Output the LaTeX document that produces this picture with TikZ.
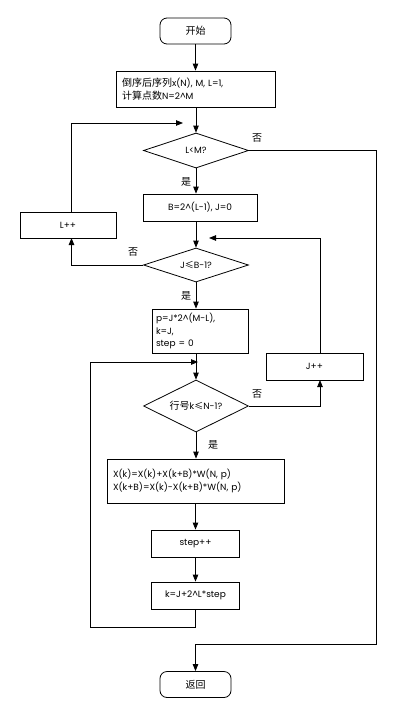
\documentclass[tikz,border=0pt]{standalone}
\usepackage{fontspec}
\setmainfont{Poppins}
\newfontfamily\cjk{Noto Sans CJK SC}
\usetikzlibrary{arrows.meta,shapes.geometric}
\tikzset{
    >={Triangle[length=7pt,width=5.5pt]},
    boks/.style={
           rectangle,
           draw=black, line width=0.8pt,
           inner sep=0pt,
           text centered},
    venstre/.style={
           boks,
           align=left},
    ende/.style={
           boks,
           rounded corners=7pt,
           minimum width=71pt,
           minimum height=26pt},
    rombe/.style={
           diamond,
           draw=black, line width=0.8pt,
           aspect=3,
           inner sep=0pt,
           minimum width=105pt},
    svar/.style={
           inner sep=0pt,
           font=\fontsize{10}{12}\cjk},
    pil/.style={
           ->,
           line width=0.8pt}
}

\begin{document}
\begin{tikzpicture}[x=1pt, y=-1pt, font=\fontsize{9}{12.5}\selectfont]
        \useasboundingbox (0,0) rectangle (401,707);
        \node[ende] (start) at (195.5,31) {{\cjk\fontsize{10}{12}\selectfont 开始}};
        \node[venstre, minimum width=159pt, minimum height=36pt, text width=147pt] (init) at (195.5,89)
            {{\cjk\fontsize{10}{12}\selectfont 倒序后序列}x(N), M, L=1,\\{\cjk\fontsize{10}{12}\selectfont 计算点数}N=2\^{}M};
        \node[rombe, minimum height=35pt] (d1) at (196,150.5) {L<M?};
        \node[boks, minimum width=114pt, minimum height=27pt] (bset) at (200,207.5) {B=2\^{}(L-1), J=0};
        \node[boks, minimum width=96pt, minimum height=26pt] (lpp) at (68,225) {L++};
        \node[rombe, minimum height=34pt] (d2) at (196,265) {J{\cjk ≤}B-1?};
        \node[venstre, minimum width=96pt, minimum height=44pt, text width=88pt] (pset) at (200,331)
            {p=J*2\^{}(M-L),\\k=J,\\step = 0};
        \node[rombe, minimum height=52pt] (d3) at (196,406) {{\cjk\fontsize{10}{12}\selectfont 行号}k{\cjk ≤}N-1?};
        \node[boks, minimum width=97pt, minimum height=27pt] (jpp) at (314.5,366.5) {J++};
        \node[venstre, minimum width=177pt, minimum height=44pt, text width=165pt] (xup) at (195.5,481)
            {X(k)=X(k)+X(k+B)*W(N, p)\\X(k+B)=X(k)-X(k+B)*W(N, p)};
        \node[boks, minimum width=88pt, minimum height=27pt] (stp) at (195.5,543.5) {step++};
        \node[boks, minimum width=88pt, minimum height=27pt] (kup) at (195.5,595.5) {k=J+2\^{}L*step};
        \node[ende] (ret) at (195.5,684.5) {{\cjk\fontsize{10}{12}\selectfont 返回}};

        \node[svar] (n1) at (257,138) {否};
        \node[svar] (y1) at (186,182) {是};
        \node[svar] (n2) at (133,252) {否};
        \node[svar] (y2) at (186,296) {是};
        \node[svar] (n3) at (257,394) {否};
        \node[svar] (y3) at (213,445) {是};

        \coordinate (c1) at (183,123);
        \coordinate (c2) at (376,644);
        \coordinate (c3) at (209,238);
        \coordinate (c4) at (90,627);
        \coordinate (c5) at (198,362);
        \coordinate (c6) at (71.5,238);
        \coordinate (c7) at (320,380);

        \draw[pil] (start) -- (init);
        \draw[pil] (init.south -| d1) -- (d1);
        \draw[pil] (d1) -- (d1 |- bset.north);
        \draw[pil] (d2 |- bset.south) -- (d2);
        \draw[pil] (d2) -- (d2 |- pset.north);
        \draw[pil] (d3 |- pset.south) -- (d3);
        \draw[pil] (d3) -- (d3 |- xup.north);
        \draw[pil] (xup.south -| stp) -- (stp);
        \draw[pil] (stp) -- (kup);
        \draw[pil] (c6 |- lpp.north) |- (c1);
        \draw[pil] (d2.west) -| (c6);
        \draw[pil] (d3.east) -| (c7);
        \draw[pil] (c7 |- jpp.north) |- (c3);
        \draw[pil] (kup.south) |- (c4) |- (c5);
        \draw[pil] (d1.east) -| (c2) -| (ret.north);
    \end{tikzpicture}
\end{document}
